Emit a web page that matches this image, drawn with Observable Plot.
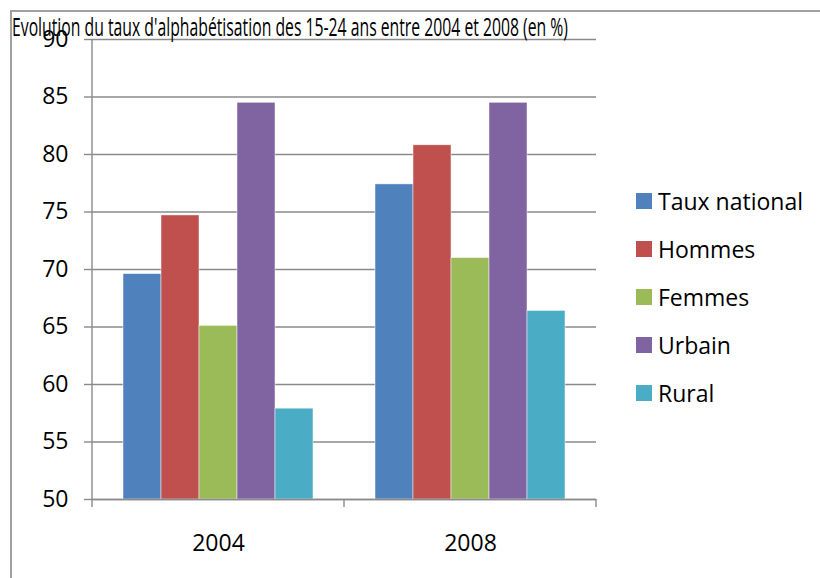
<!DOCTYPE html>
<html>
<head>
<meta charset="utf-8">
<script src="https://cdn.jsdelivr.net/npm/d3@7"></script>
<script src="https://cdn.jsdelivr.net/npm/@observablehq/plot@0.6"></script>
<style>
  html, body { margin: 0; padding: 0; background: #fff; }
  #wrap { position: relative; width: 820px; height: 578px; overflow: hidden; font-family: "Open Sans", sans-serif; }
  #frame { position: absolute; left: 10px; top: 10px; width: 1000px; height: 1000px; border-left: 2px solid #a0a0a0; border-top: 2px solid #a0a0a0; }
  #chart { position: absolute; left: 0; top: 0; }
  #title { position: absolute; left: 12px; top: 14px; font-size: 25px; line-height: 25px; white-space: nowrap; transform-origin: 0 0; color: #000; }
  .lg { position: absolute; left: 636px; height: 32px; font-size: 23px; line-height: 32px; color: #000; white-space: nowrap; }
  .lg .sw { position: absolute; left: 0; top: 8px; width: 15.7px; height: 15.7px; }
  .lg .tx { position: absolute; left: 22px; top: 0; }
</style>
</head>
<body>
<div id="wrap">
  <div id="frame"></div>
  <div id="chart"></div>
  <div id="title"></div>
</div>
<script>
const titleText = "Evolution du taux d'alphabétisation des 15-24 ans entre 2004 et 2008 (en %)";
const years = ["2004", "2008"];
const series = ["Taux national", "Hommes", "Femmes", "Urbain", "Rural"];
const values2004 = [69.6, 74.7, 65.1, 84.5, 57.9];
const values2008 = [77.4, 80.8, 71.0, 84.5, 66.4];
const colors = ["#4F81BD", "#C0504D", "#9BBB59", "#8064A2", "#4BACC6"];
const yTicks = [50, 55, 60, 65, 70, 75, 80, 85, 90];

const valuesByYear = {"2004": values2004, "2008": values2008};
const data = years.flatMap(year => series.map((s, i) => ({year, series: s, value: valuesByYear[year][i]})));
const yMin = yTicks[0], yMax = yTicks[yTicks.length - 1];
const gridColor = "#8a8a8a";

const chart = Plot.plot({
  width: 820,
  height: 578,
  marginLeft: 92,
  marginRight: 224,
  marginTop: 39,
  marginBottom: 79,
  style: {fontFamily: "'Open Sans', sans-serif", fontSize: "23px", color: "#000", background: "transparent", overflow: "visible"},
  fx: {domain: years, padding: 0, label: null},
  x: {domain: series, paddingInner: 0, paddingOuter: 0.764, axis: null},
  y: {domain: [yMin, yMax], label: null},
  color: {domain: series, range: colors},
  marks: [
    Plot.gridY(yTicks, {stroke: gridColor, strokeOpacity: 1, strokeWidth: 1.4}),
    Plot.barY(data, {fx: "year", x: "series", y1: yMin, y2: "value", fill: "series", stroke: "#fff", strokeWidth: 0.6, strokeOpacity: 0.8}),
    Plot.ruleY([yMin], {stroke: gridColor, strokeWidth: 1.4}),
    Plot.axisY(yTicks, {anchor: "left", tickSize: 8, tickPadding: 16, stroke: gridColor, strokeWidth: 1.4, fill: "#000", fontSize: 23, tickFormat: d => String(d)}),
    Plot.axisFx({anchor: "bottom", tickSize: 0, tickPadding: 35, fill: "#000", fontSize: 23, label: null})
  ]
});
document.getElementById("chart").appendChild(chart);

// y-axis line and category boundary ticks (Excel style), from Plot's own scales
const fxS = chart.scale("fx"), yS = chart.scale("y");
const bounds = years.map(y => fxS.apply(y));
bounds.push(fxS.apply(years[years.length - 1]) + fxS.bandwidth);
const svg = d3.select(chart);
const y0 = yS.apply(yMin), y1 = yS.apply(yMax);
svg.append("line").attr("x1", bounds[0]).attr("x2", bounds[0]).attr("y1", y1).attr("y2", y0 + 8)
  .attr("stroke", gridColor).attr("stroke-width", 1.4);
bounds.slice(1).forEach(b => {
  svg.append("line").attr("x1", b).attr("x2", b).attr("y1", y0).attr("y2", y0 + 8)
    .attr("stroke", gridColor).attr("stroke-width", 1.4);
});

// Title, condensed to the reference width
const t = document.getElementById("title");
t.textContent = titleText;
const w = t.getBoundingClientRect().width;
t.style.transform = `scaleX(${556 / w})`;

// Legend
const wrap = document.getElementById("wrap");
series.forEach((s, i) => {
  const row = document.createElement("div");
  row.className = "lg";
  row.style.top = (201 + i * 48 - 16) + "px";
  const sw = document.createElement("div");
  sw.className = "sw";
  sw.style.background = colors[i];
  const tx = document.createElement("div");
  tx.className = "tx";
  tx.textContent = s;
  row.appendChild(sw);
  row.appendChild(tx);
  wrap.appendChild(row);
});
</script>
</body>
</html>
